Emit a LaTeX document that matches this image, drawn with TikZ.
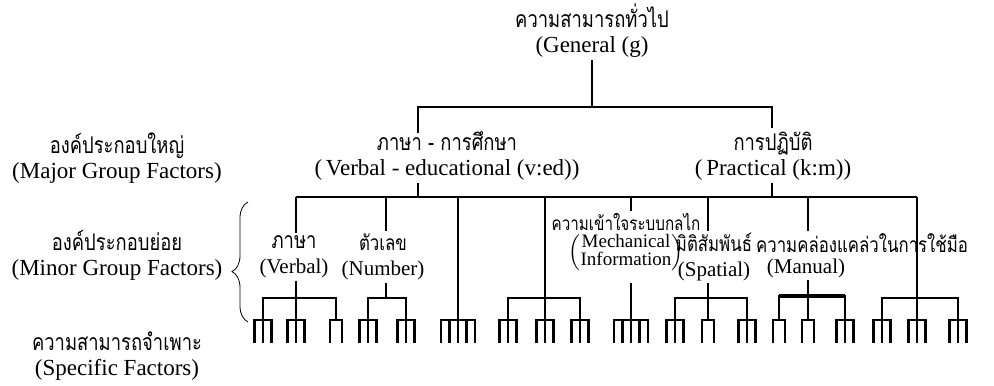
\documentclass[tikz,border=0pt]{standalone}
\usepackage{fontspec}
\setmainfont{Liberation Serif}
\newfontfamily\thai[Script=Thai, FakeStretch=0.8]{Loma}
\usetikzlibrary{decorations.pathreplacing}

\tikzset{
  linea/.style={line width=1.15pt},
  etichetta/.style={align=center, inner sep=1pt, font=\fontsize{11.5}{12.5}\selectfont},
  minore/.style={align=center, inner sep=1pt, font=\fontsize{10.5}{12.5}\selectfont},
  tre/.pic={\draw[linea] (-8.5,23) |- (8.5,0) -- (8.5,23) (0,0) -- (0,23);},
  due/.pic={\draw[linea] (-6,23) |- (6,0) -- (6,23);},
  cinque/.pic={\draw[linea] (-17,23) |- (17,0) -- (17,23)
    (-8.5,0) -- (-8.5,23) (0,0) -- (0,23) (8.5,0) -- (8.5,23);}
}

\begin{document}
\begin{tikzpicture}[x=0.5pt, y=-0.5pt]
  \useasboundingbox (0,0) rectangle (994,385);

  % Etichette a sinistra
  \node[etichetta] (maggiori) at (117,158) {{\thai องค์ประกอบใหญ่}\\(Major Group Factors)};
  \node[etichetta] (minori) at (117,255) {{\thai องค์ประกอบย่อย}\\(Minor Group Factors)};
  \node[etichetta] (specifici) at (117,356) {{\thai ความสามารถจำเพาะ}\\(Specific Factors)};
  \draw[decorate, decoration={brace, amplitude=8, aspect=0.42}] (248,322) -- (248,202);

  % Fattore generale e fattori maggiori
  \node[etichetta] (g) at (592,31) {{\thai ความสามารถทั่วไป}\\(General (g)};
  \node[etichetta] (ved) at (447,156) {{\thai ภาษา - การศึกษา}\\(\,Verbal - educational (v:ed))};
  \node[etichetta] (km) at (773,156) {{\thai การปฏิบัติ}\\(\,Practical (k:m))};
  \coordinate (b0) at (592,107);
  \coordinate (v0) at (418,133);
  \coordinate (p0) at (772,128);
  \draw[linea] (g) -- (b0);
  \draw[linea] (v0) |- (b0) -| (p0);

  % Fattori minori
  \node[minore] (verbal) at (294,257) {{\thai\fontsize{11.5}{12.5}\selectfont ภาษา}\\(Verbal)};
  \node[minore] (number) at (383,257) {{\thai ตัวเลข}\\(Number)};
  \node[minore, font=\fontsize{9.5}{9}\selectfont] (mech) at (626,242)
    {{\thai ความเข้าใจระบบกลไก}\\[1pt]$\left(\begin{tabular}{@{}c@{}}Mechanical\\[-0.5pt]Information\end{tabular}\right)$};
  \node[minore] (spatial) at (714,257) {{\thai มิติสัมพันธ์}\\(Spatial)};
  \node[minore] (manth) at (862,243) {\thai ความคล่องแคล่วในการใช้มือ};
  \node[minore] (manual) at (806,268) {(Manual)};

  \coordinate (v1) at (418,197);
  \coordinate (p1) at (772,197);
  \coordinate (s1) at (296,197);
  \coordinate (s2) at (386,197);
  \coordinate (s3) at (458,197);
  \coordinate (s4) at (545,197);
  \coordinate (s5) at (631,197);
  \coordinate (s6) at (708,197);
  \coordinate (s7) at (808,197);
  \coordinate (s8) at (917,197);
  \draw[linea] (ved.south -| v1) -- (v1);
  \draw[linea] (km.south -| p1) -- (p1);
  \draw[linea] (s1) -- (s8);
  \draw[linea] (s1) -- (s1 |- verbal.north);
  \draw[linea] (s2) -- (s2 |- number.north);
  \draw[linea] (s5) -- (s5 |- mech.north);
  \draw[linea] (s6) -- (s6 |- spatial.north);
  \draw[linea] (s7) -- (s7 |- manth.north);

  % Rami verso i fattori specifici
  \coordinate (c1) at (296,298);
  \coordinate (c2) at (386,298);
  \coordinate (c3) at (545,298);
  \coordinate (c4) at (708,298);
  \coordinate (c5) at (808,296);
  \coordinate (c6) at (917,298);
  \coordinate (k5) at (631,283);

  \coordinate (g1) at (263,320);
  \coordinate (g2) at (296,320);
  \coordinate (g3) at (336,320);
  \coordinate (g4) at (368,320);
  \coordinate (g5) at (406,320);
  \coordinate (g6) at (458,320);
  \coordinate (g7) at (508,320);
  \coordinate (g8) at (545,320);
  \coordinate (g9) at (580,320);
  \coordinate (g10) at (631,320);
  \coordinate (g11) at (675,320);
  \coordinate (g12) at (708,320);
  \coordinate (g13) at (747,320);
  \coordinate (g14) at (779,320);
  \coordinate (g15) at (808,320);
  \coordinate (g16) at (845,320);
  \coordinate (g17) at (882,320);
  \coordinate (g18) at (917,320);
  \coordinate (g19) at (958,320);

  \draw[linea] (verbal.south -| c1) -- (g2);
  \draw[linea] (g1) |- (c1) -| (g3);
  \draw[linea] (number.south -| c2) -- (c2);
  \draw[linea] (g4) |- (c2) -| (g5);
  \draw[linea] (s3) -- (g6);
  \draw[linea] (s4) -- (g8);
  \draw[linea] (g7) |- (c3) -| (g9);
  \draw[linea] (k5) -- (g10);
  \draw[linea] (spatial.south -| c4) -- (g12);
  \draw[linea] (g11) |- (c4) -| (g13);
  \draw[linea] (manual.south -| c5) -- (g15);
  \draw[linea] (g14) |- (c5) -| (g16);
  \draw[line width=2pt] (g14 |- c5) -- (g16 |- c5);
  \draw[linea] (s8) -- (g18);
  \draw[linea] (g17) |- (c6) -| (g19);

  % Fattori specifici
  \pic at (g1) {tre};
  \pic at (g2) {tre};
  \pic at (g3) {due};
  \pic at (g4) {tre};
  \pic at (g5) {tre};
  \pic at (g6) {cinque};
  \pic at (g7) {tre};
  \pic at (g8) {tre};
  \pic at (g9) {tre};
  \pic at (g10) {cinque};
  \pic at (g11) {tre};
  \pic at (g12) {due};
  \pic at (g13) {tre};
  \pic at (g14) {due};
  \pic at (g15) {due};
  \pic at (g16) {tre};
  \pic at (g17) {tre};
  \pic at (g18) {tre};
  \pic at (g19) {tre};

\end{tikzpicture}
\end{document}
